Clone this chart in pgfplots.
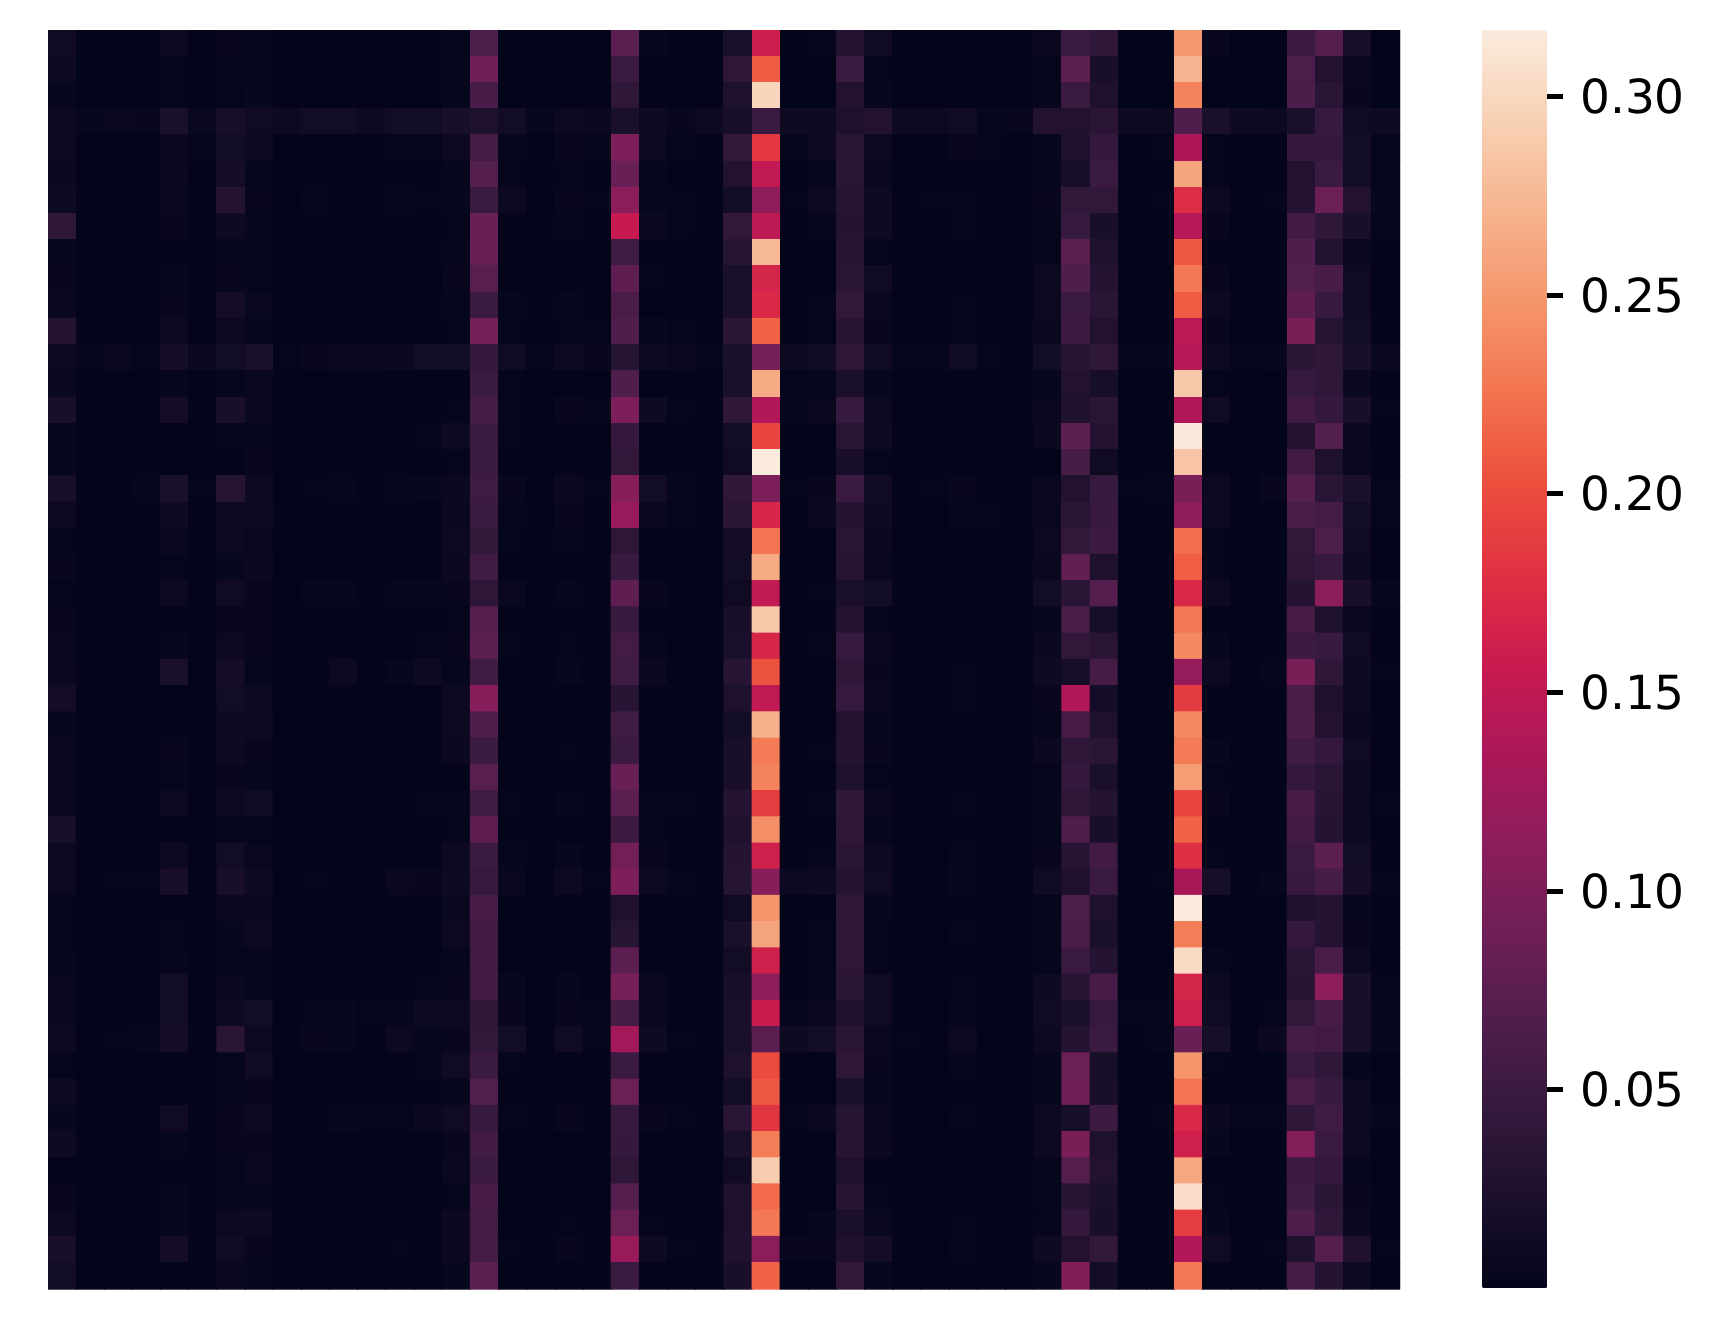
\documentclass[border=0pt]{standalone}
\usepackage{pgfplots}
\pgfplotsset{compat=1.18}
\usepackage{fontspec}
\setmainfont{DejaVu Sans}
\begin{document}
\begin{tikzpicture}[x=1pt,y=1pt]
\useasboundingbox (0,0) rectangle (860,664);
\begin{axis}[
  at={(24pt,19.5pt)}, anchor=south west,
  scale only axis, width=676pt, height=629.5pt,
  xmin=-0.5, xmax=47.5, ymin=-0.5, ymax=47.5, y dir=reverse,
  hide axis,
  colormap={rocket}{rgb255=(3,5,26) rgb255=(28,16,44) rgb255=(53,25,62) rgb255=(81,30,77) rgb255=(112,31,87) rgb255=(142,29,91) rgb255=(173,23,89) rgb255=(203,27,79) rgb255=(225,51,66) rgb255=(237,80,62) rgb255=(243,118,81) rgb255=(245,150,109) rgb255=(246,180,143) rgb255=(248,209,181) rgb255=(250,235,221)},
  point meta min=0.0001, point meta max=0.317,
  colorbar,
  colorbar/width=32pt,
  colorbar style={
    at={(parent axis.south east)}, anchor=south west, xshift=32.75pt, yshift=0.5pt,
    scale only axis, height=629.5pt,
    axis line style={draw=none},
    xtick=\empty,
    ytick={0.05,0.10,0.15,0.20,0.25,0.30},
    ytick pos=right, yticklabel pos=right,
    tick align=outside,
    major tick length=8pt,
    major tick style={black, line width=2.6pt},
    every major tick/.append style={black, line width=2.6pt},
    /pgf/number format/assume math mode=true,
    /pgf/number format/fixed, /pgf/number format/fixed zerofill, /pgf/number format/precision=2,
    yticklabel style={font=\fontsize{23.5}{28}\selectfont, inner sep=0pt, xshift=8.6pt},
  },
]
\addplot[matrix plot*, shader=faceted, faceted color=mapped color, line width=0.6pt, mesh/cols=48, point meta=explicit] table[row sep=\\, header=false,
  x expr={\coordindex-48*floor((\coordindex+0.5)/48)}, y expr={floor((\coordindex+0.5)/48)}, meta expr={\thisrowno{0}/1000}] {
12\\0\\0\\0\\8\\1\\5\\4\\1\\1\\1\\1\\1\\1\\3\\65\\1\\1\\1\\1\\75\\4\\1\\1\\22\\160\\0\\2\\30\\12\\1\\1\\1\\1\\1\\6\\50\\40\\0\\0\\250\\5\\1\\1\\52\\70\\18\\1\\
10\\0\\0\\0\\2\\1\\3\\3\\1\\1\\1\\1\\1\\1\\3\\90\\1\\1\\1\\1\\50\\1\\1\\1\\38\\210\\0\\1\\50\\2\\1\\1\\1\\1\\1\\2\\75\\20\\0\\0\\272\\1\\0\\0\\65\\28\\6\\0\\
4\\0\\0\\0\\2\\1\\2\\4\\1\\1\\1\\1\\1\\1\\3\\60\\1\\1\\1\\1\\40\\1\\1\\1\\24\\298\\0\\0\\28\\4\\1\\1\\1\\1\\1\\3\\50\\25\\0\\0\\235\\1\\0\\0\\63\\35\\5\\0\\
9\\4\\6\\5\\22\\6\\18\\12\\8\\14\\14\\8\\14\\14\\20\\24\\15\\4\\8\\7\\22\\10\\5\\8\\18\\50\\10\\10\\25\\28\\8\\9\\12\\3\\5\\28\\28\\36\\10\\9\\66\\22\\11\\9\\22\\46\\12\\11\\
8\\1\\1\\1\\7\\2\\15\\8\\1\\1\\1\\1\\2\\2\\8\\58\\3\\1\\5\\3\\100\\8\\2\\1\\42\\185\\3\\8\\36\\9\\1\\1\\5\\2\\1\\4\\26\\44\\1\\2\\136\\2\\1\\1\\44\\44\\14\\2\\
7\\1\\1\\1\\7\\1\\16\\3\\1\\1\\1\\1\\1\\1\\3\\70\\2\\1\\2\\1\\85\\3\\1\\1\\28\\150\\1\\2\\36\\6\\1\\1\\1\\1\\1\\3\\18\\50\\1\\1\\260\\2\\1\\1\\28\\50\\14\\2\\
11\\1\\1\\1\\6\\1\\30\\5\\1\\3\\1\\1\\3\\2\\4\\50\\8\\1\\5\\2\\112\\3\\2\\1\\15\\115\\2\\8\\32\\10\\1\\2\\2\\1\\1\\5\\42\\42\\1\\2\\175\\8\\1\\2\\30\\88\\28\\4\\
40\\1\\1\\1\\5\\1\\10\\4\\1\\1\\1\\1\\1\\1\\2\\85\\1\\1\\3\\1\\155\\7\\2\\1\\42\\148\\1\\3\\30\\10\\1\\1\\2\\1\\1\\3\\45\\20\\1\\1\\143\\5\\1\\1\\55\\40\\20\\2\\
3\\1\\1\\1\\1\\1\\2\\2\\1\\1\\1\\1\\1\\1\\3\\85\\1\\1\\1\\1\\53\\1\\1\\1\\32\\275\\0\\0\\32\\2\\1\\1\\1\\1\\1\\2\\76\\25\\0\\0\\208\\1\\0\\0\\66\\27\\6\\1\\
5\\1\\1\\1\\3\\1\\5\\3\\1\\1\\1\\1\\1\\1\\5\\72\\1\\1\\1\\1\\78\\2\\1\\1\\22\\168\\1\\1\\36\\12\\1\\1\\1\\1\\1\\8\\66\\30\\0\\0\\228\\5\\1\\1\\68\\60\\12\\1\\
6\\1\\1\\1\\5\\1\\16\\6\\1\\1\\1\\1\\1\\1\\3\\50\\3\\1\\3\\1\\62\\1\\1\\1\\22\\172\\1\\2\\42\\6\\1\\1\\2\\1\\1\\8\\50\\35\\0\\0\\210\\8\\1\\1\\78\\48\\12\\1\\
30\\1\\1\\1\\8\\1\\8\\3\\1\\1\\1\\1\\1\\1\\2\\92\\2\\1\\2\\2\\66\\4\\2\\1\\36\\215\\1\\2\\34\\5\\1\\1\\2\\1\\1\\6\\52\\28\\0\\0\\148\\5\\1\\1\\98\\32\\15\\1\\
9\\3\\6\\3\\17\\7\\14\\22\\2\\5\\6\\6\\7\\14\\14\\44\\12\\2\\8\\5\\32\\8\\6\\3\\22\\95\\9\\12\\38\\12\\3\\3\\12\\2\\1\\15\\32\\40\\3\\3\\143\\8\\3\\4\\37\\40\\20\\6\\
6\\1\\1\\1\\3\\1\\3\\6\\1\\1\\1\\1\\1\\1\\1\\50\\2\\1\\1\\1\\66\\1\\1\\1\\22\\265\\2\\3\\22\\4\\1\\1\\1\\1\\1\\3\\28\\18\\0\\0\\288\\2\\1\\1\\45\\40\\7\\1\\
20\\1\\1\\1\\16\\1\\20\\6\\1\\1\\1\\1\\1\\1\\2\\58\\2\\1\\5\\3\\100\\11\\2\\1\\40\\140\\2\\6\\45\\8\\1\\1\\1\\1\\1\\6\\26\\36\\1\\1\\137\\12\\1\\1\\55\\44\\20\\2\\
3\\1\\1\\1\\1\\1\\3\\3\\1\\1\\1\\1\\1\\2\\10\\50\\2\\1\\1\\1\\44\\1\\1\\1\\14\\195\\0\\1\\35\\10\\1\\1\\1\\1\\1\\7\\77\\30\\0\\0\\315\\1\\0\\0\\28\\68\\7\\1\\
4\\1\\1\\1\\1\\1\\1\\5\\1\\1\\1\\1\\1\\1\\2\\50\\1\\1\\1\\1\\42\\1\\1\\1\\12\\317\\1\\1\\20\\2\\1\\1\\1\\1\\1\\1\\58\\12\\0\\0\\285\\1\\0\\0\\55\\24\\6\\1\\
20\\1\\1\\3\\22\\2\\32\\8\\1\\2\\3\\1\\3\\4\\7\\53\\5\\0\\7\\2\\108\\14\\3\\1\\40\\100\\2\\5\\50\\12\\1\\2\\5\\1\\1\\6\\28\\45\\2\\3\\98\\8\\1\\5\\70\\36\\22\\2\\
9\\1\\1\\1\\10\\1\\10\\10\\1\\1\\1\\1\\1\\1\\7\\50\\3\\1\\5\\1\\120\\6\\2\\1\\36\\170\\1\\7\\30\\10\\1\\1\\3\\2\\1\\6\\35\\48\\1\\1\\115\\8\\1\\1\\62\\58\\14\\2\\
2\\1\\1\\1\\6\\1\\8\\6\\1\\1\\1\\1\\1\\1\\8\\42\\2\\1\\3\\1\\38\\1\\1\\1\\16\\225\\1\\1\\36\\7\\1\\1\\1\\1\\1\\8\\42\\52\\0\\0\\222\\2\\0\\0\\42\\65\\12\\1\\
5\\1\\1\\1\\2\\1\\4\\7\\1\\1\\1\\1\\1\\1\\7\\54\\1\\1\\1\\1\\48\\1\\1\\1\\14\\265\\1\\1\\32\\6\\1\\1\\1\\1\\1\\6\\80\\24\\0\\0\\212\\2\\0\\0\\38\\45\\8\\1\\
2\\1\\1\\1\\8\\1\\12\\5\\1\\3\\3\\1\\3\\4\\5\\38\\6\\1\\3\\1\\78\\5\\1\\1\\12\\152\\1\\2\\22\\14\\1\\1\\1\\1\\1\\14\\36\\70\\1\\1\\172\\8\\1\\1\\30\\112\\20\\3\\
5\\1\\1\\1\\1\\1\\5\\5\\1\\1\\1\\1\\1\\1\\2\\70\\1\\1\\1\\1\\48\\1\\1\\1\\20\\287\\1\\1\\30\\2\\1\\1\\1\\1\\1\\3\\62\\18\\0\\0\\228\\1\\0\\0\\60\\24\\6\\1\\
6\\1\\1\\1\\4\\1\\8\\5\\1\\1\\1\\1\\1\\2\\5\\75\\2\\0\\2\\1\\57\\3\\1\\1\\22\\170\\1\\2\\45\\7\\1\\1\\1\\1\\1\\7\\42\\36\\0\\0\\240\\4\\0\\0\\52\\48\\12\\1\\
7\\1\\1\\1\\22\\1\\16\\3\\1\\1\\8\\1\\4\\10\\3\\54\\1\\1\\4\\1\\54\\7\\1\\1\\34\\205\\1\\1\\40\\5\\1\\1\\2\\1\\1\\11\\18\\58\\0\\1\\118\\8\\1\\3\\98\\40\\10\\2\\
16\\1\\1\\1\\1\\1\\15\\8\\1\\1\\1\\1\\1\\1\\8\\108\\1\\1\\1\\1\\34\\1\\1\\1\\24\\150\\1\\1\\45\\6\\1\\1\\2\\1\\1\\5\\140\\16\\0\\0\\188\\1\\0\\0\\62\\25\\8\\1\\
4\\1\\1\\1\\1\\1\\11\\11\\1\\1\\1\\1\\1\\1\\9\\66\\1\\1\\1\\1\\54\\0\\1\\1\\14\\270\\1\\1\\28\\4\\1\\1\\1\\1\\1\\3\\60\\24\\0\\0\\240\\0\\0\\0\\64\\28\\6\\1\\
6\\1\\1\\1\\5\\1\\10\\5\\1\\1\\1\\1\\1\\1\\7\\50\\1\\1\\2\\1\\50\\1\\1\\1\\20\\230\\1\\2\\30\\5\\1\\1\\1\\1\\1\\7\\40\\36\\0\\0\\230\\4\\0\\0\\54\\44\\12\\1\\
6\\1\\1\\1\\3\\1\\5\\3\\1\\1\\1\\1\\1\\1\\1\\74\\1\\1\\1\\1\\85\\1\\1\\1\\20\\235\\1\\1\\24\\2\\1\\1\\1\\1\\1\\2\\44\\22\\0\\0\\255\\2\\0\\0\\44\\36\\10\\1\\
6\\1\\1\\1\\8\\1\\9\\12\\1\\1\\1\\1\\1\\2\\3\\54\\2\\1\\3\\1\\76\\2\\2\\1\\30\\190\\1\\3\\40\\7\\1\\1\\2\\1\\1\\4\\38\\30\\0\\0\\195\\5\\0\\0\\60\\34\\8\\2\\
18\\1\\1\\1\\1\\1\\3\\2\\1\\1\\1\\1\\1\\1\\2\\78\\1\\1\\1\\1\\52\\2\\1\\1\\26\\243\\0\\0\\40\\3\\1\\1\\1\\1\\1\\4\\66\\20\\0\\0\\215\\1\\0\\0\\56\\30\\10\\1\\
8\\1\\1\\1\\8\\1\\14\\6\\1\\1\\1\\1\\1\\1\\8\\50\\3\\1\\4\\1\\92\\5\\1\\1\\30\\163\\1\\2\\36\\8\\1\\1\\3\\1\\1\\5\\34\\56\\0\\0\\178\\2\\0\\0\\50\\77\\14\\1\\
8\\1\\2\\2\\20\\1\\20\\11\\1\\2\\1\\1\\6\\5\\10\\47\\6\\1\\9\\2\\100\\8\\3\\1\\32\\108\\8\\11\\30\\12\\1\\1\\4\\1\\1\\12\\25\\50\\1\\2\\132\\18\\1\\3\\48\\58\\16\\3\\
2\\1\\1\\1\\1\\1\\6\\6\\1\\1\\1\\1\\1\\1\\6\\60\\1\\1\\1\\1\\25\\1\\1\\1\\12\\248\\0\\0\\40\\4\\1\\1\\1\\1\\1\\2\\65\\24\\0\\0\\316\\0\\0\\0\\25\\30\\4\\1\\
2\\1\\1\\1\\2\\1\\4\\8\\1\\1\\1\\1\\1\\1\\8\\56\\1\\1\\1\\1\\32\\1\\1\\1\\22\\260\\1\\2\\38\\2\\1\\1\\3\\1\\1\\4\\63\\22\\0\\0\\232\\1\\0\\0\\44\\30\\5\\1\\
3\\1\\1\\1\\3\\1\\3\\3\\1\\1\\1\\1\\1\\1\\3\\55\\1\\1\\1\\1\\77\\1\\1\\1\\14\\163\\1\\2\\38\\2\\1\\1\\1\\1\\1\\3\\50\\30\\0\\0\\302\\3\\0\\0\\36\\62\\8\\1\\
6\\1\\1\\1\\14\\1\\6\\3\\1\\1\\1\\1\\1\\2\\5\\56\\4\\1\\4\\1\\95\\6\\1\\1\\20\\113\\1\\3\\36\\12\\1\\1\\2\\1\\1\\10\\34\\60\\1\\1\\168\\8\\0\\1\\34\\113\\20\\2\\
6\\1\\1\\1\\15\\1\\10\\14\\1\\2\\4\\2\\3\\8\\8\\40\\5\\1\\5\\2\\58\\6\\1\\1\\22\\158\\2\\7\\26\\12\\1\\1\\3\\1\\1\\12\\22\\45\\2\\2\\162\\12\\1\\2\\42\\60\\18\\2\\
9\\1\\2\\3\\16\\1\\35\\8\\1\\5\\3\\1\\9\\4\\5\\42\\14\\1\\12\\2\\128\\10\\2\\1\\22\\76\\10\\15\\36\\6\\2\\1\\9\\1\\1\\8\\30\\50\\1\\3\\84\\18\\1\\7\\58\\56\\18\\3\\
2\\1\\1\\1\\1\\1\\2\\12\\1\\1\\1\\1\\1\\3\\12\\50\\2\\1\\1\\1\\50\\1\\1\\1\\24\\200\\1\\1\\38\\5\\1\\1\\3\\1\\1\\4\\86\\18\\0\\0\\248\\2\\0\\0\\50\\40\\3\\1\\
10\\1\\1\\1\\1\\1\\4\\5\\1\\1\\1\\1\\1\\1\\3\\68\\1\\1\\1\\1\\86\\1\\1\\1\\15\\208\\0\\1\\22\\4\\1\\1\\1\\1\\1\\3\\90\\20\\0\\0\\225\\1\\0\\0\\62\\48\\8\\1\\
4\\1\\1\\1\\12\\1\\5\\10\\1\\1\\4\\3\\3\\7\\12\\47\\3\\1\\5\\1\\46\\5\\2\\1\\35\\183\\2\\6\\32\\6\\1\\1\\3\\1\\1\\8\\18\\52\\1\\2\\172\\7\\2\\3\\40\\54\\8\\3\\
10\\1\\1\\1\\3\\1\\5\\5\\1\\1\\1\\1\\1\\1\\5\\55\\1\\1\\1\\1\\44\\1\\1\\1\\22\\232\\1\\1\\34\\7\\1\\1\\1\\1\\1\\9\\98\\24\\0\\0\\163\\4\\0\\0\\105\\50\\8\\1\\
1\\1\\1\\1\\1\\1\\3\\6\\1\\1\\1\\1\\1\\1\\6\\50\\1\\1\\1\\1\\40\\1\\1\\1\\12\\290\\0\\0\\24\\1\\1\\1\\1\\1\\1\\3\\70\\28\\0\\0\\262\\1\\0\\0\\52\\44\\3\\1\\
5\\1\\1\\1\\4\\1\\3\\4\\1\\1\\1\\1\\1\\1\\2\\60\\1\\1\\1\\1\\70\\1\\1\\1\\26\\220\\0\\0\\34\\2\\1\\1\\1\\1\\1\\2\\34\\22\\0\\0\\305\\2\\0\\0\\54\\36\\5\\1\\
8\\1\\1\\1\\4\\1\\9\\10\\1\\1\\1\\1\\1\\1\\7\\58\\1\\1\\2\\1\\86\\2\\1\\1\\24\\228\\1\\4\\22\\6\\1\\1\\2\\1\\1\\2\\44\\20\\0\\0\\190\\4\\0\\0\\66\\40\\7\\1\\
20\\1\\1\\1\\16\\1\\12\\5\\1\\1\\1\\1\\2\\1\\7\\57\\2\\1\\5\\1\\122\\10\\2\\1\\26\\110\\5\\5\\26\\16\\1\\1\\3\\1\\1\\10\\28\\42\\1\\1\\140\\12\\1\\2\\26\\70\\26\\2\\
14\\1\\1\\1\\1\\1\\6\\4\\1\\1\\1\\1\\1\\1\\4\\75\\1\\1\\1\\1\\50\\1\\1\\1\\20\\215\\0\\1\\42\\4\\1\\1\\1\\1\\1\\4\\102\\16\\0\\0\\228\\1\\0\\0\\58\\30\\8\\1\\
};
\end{axis}
\end{tikzpicture}
\end{document}
